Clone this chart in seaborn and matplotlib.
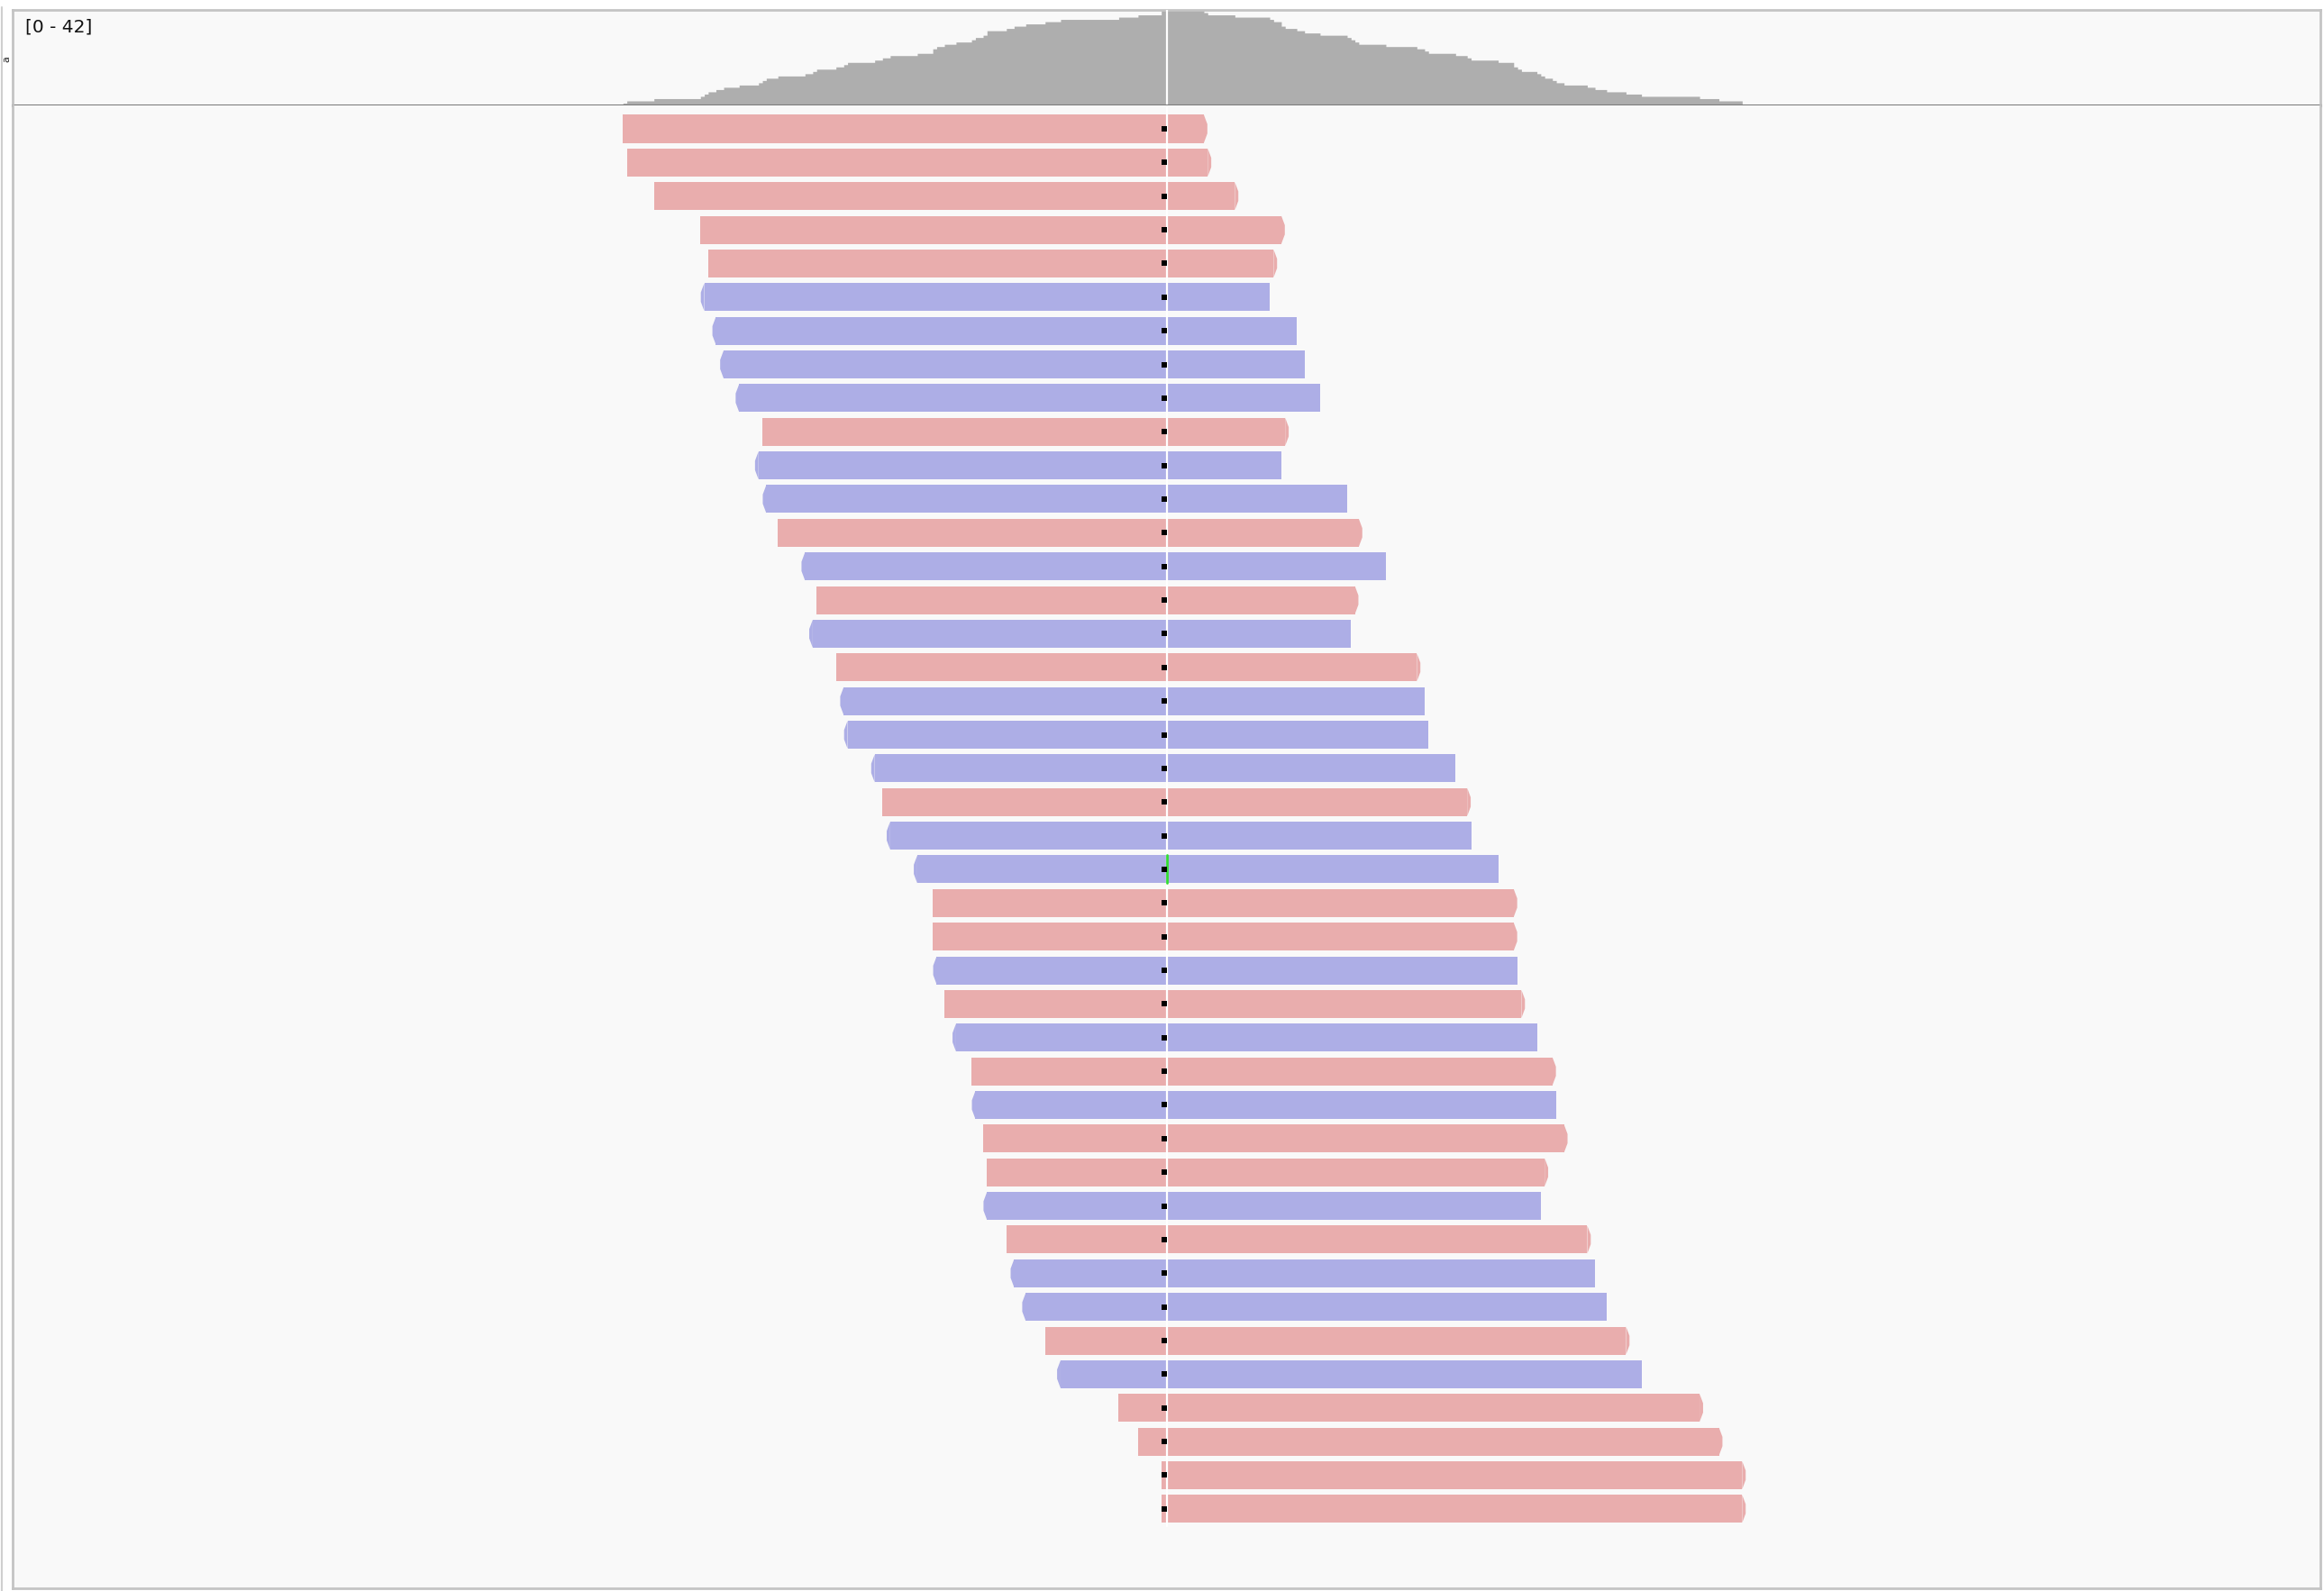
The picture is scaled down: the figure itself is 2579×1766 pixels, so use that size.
import numpy as np
import pandas as pd
import matplotlib
matplotlib.use("Agg")
import matplotlib.pyplot as plt
import seaborn as sns
from matplotlib.patches import Polygon
from matplotlib.lines import Line2D

# ---- data (positions in bp relative to the centre base) ----
read_start = [-140, -139, -132, -120, -118, -119, -116, -114, -110, -104, -105, -103,
              -100, -93, -90, -91, -85, -83, -82, -75, -73, -71, -64, -60, -60, -59,
              -57, -54, -50, -49, -47, -46, -46, -41, -39, -36, -31, -27, -12, -7, -1, -1]
read_end = [10, 11, 18, 30, 28, 27, 34, 36, 40, 31, 30, 47, 50, 57, 49, 48, 65, 67,
            68, 75, 78, 79, 86, 90, 90, 91, 92, 96, 100, 101, 103, 98, 97, 109, 111,
            114, 119, 123, 138, 143, 149, 149]
read_strand = ["+", "+", "+", "+", "+", "-", "-", "-", "-", "+", "-", "-", "+", "-",
               "+", "-", "+", "-", "-", "-", "+", "-", "-", "+", "+", "-", "+", "-",
               "+", "-", "+", "+", "-", "+", "-", "-", "+", "-", "+", "+", "+", "+"]
mismatch_rows = [23]
coverage_range_label = "[0 - 42]"
track_label = "a"

reads = pd.DataFrame({"row": np.arange(1, len(read_start) + 1),
                      "start": read_start, "end": read_end, "strand": read_strand})

FWD = "#E9ADAD"
REV = "#ADAEE6"
BG = "#F9F9F9"
COV = "#AEAEAE"
BORDER = "#C4C4C4"

sns.set_theme(style="white")
plt.rcParams["font.family"] = ["DejaVu Sans"]

W, H = 2579, 1766
fig = plt.figure(figsize=(W / 100, H / 100), dpi=100, facecolor="white")

x0, x1 = 14, 2575
cov_top, cov_bot = 11, 117
rd_bot = 1763
XL = (-297.6, 298.3)

ax_cov = fig.add_axes([x0 / W, 1 - cov_bot / H, (x1 - x0) / W, (cov_bot - cov_top) / H])
ax = fig.add_axes([x0 / W, 1 - rd_bot / H, (x1 - x0) / W, (rd_bot - cov_bot) / H])

for a in (ax_cov, ax):
    a.set_facecolor(BG)
    a.set_xlim(*XL)
    a.set_xticks([])
    a.set_yticks([])
    a.set_xlabel("")
    a.set_ylabel("")

# ---- coverage track computed from reads ----
positions = np.concatenate([np.arange(s, e) + 0.5 for s, e in zip(reads.start, reads.end)])
sns.histplot(x=positions, bins=np.arange(-298, 300, 1), element="step", fill=True,
             color=COV, alpha=1.0, linewidth=0, ax=ax_cov)
ax_cov.set_xlim(*XL)
ax_cov.set_ylim(0, 42.2)
ax_cov.set_xlabel("")
ax_cov.set_ylabel("")
ax_cov.set_yticks([])
ax_cov.set_xticks([])
ax_cov.axvline(0.35, color="white", lw=1.6, zorder=5)
for s in ("top", "left", "right"):
    ax_cov.spines[s].set_color(BORDER)
    ax_cov.spines[s].set_linewidth(2)
ax_cov.spines["bottom"].set_color("#7A7A7A")
ax_cov.spines["bottom"].set_linewidth(2.2)
ax_cov.spines["bottom"].set_zorder(6)
ax_cov.text(14 / (x1 - x0), 1 - 9 / (cov_bot - cov_top), coverage_range_label,
            transform=ax_cov.transAxes, ha="left", va="top", fontsize=14.5, color="#111111")

# ---- reads ----
hgt = 0.83
tip = 0.9
colors = [FWD if s == "+" else REV for s in reads.strand]
ax.barh(reads.row, reads.end - reads.start, left=reads.start, height=hgt,
        color=colors, linewidth=0, zorder=2)
for r in reads.itertuples():
    c = FWD if r.strand == "+" else REV
    if r.strand == "+":
        pts = [(r.end, r.row - hgt / 2), (r.end + tip, r.row - hgt / 6),
               (r.end + tip, r.row + hgt / 6), (r.end, r.row + hgt / 2)]
    else:
        pts = [(r.start, r.row - hgt / 2), (r.start - tip, r.row - hgt / 6),
               (r.start - tip, r.row + hgt / 6), (r.start, r.row + hgt / 2)]
    ax.add_patch(Polygon(pts, closed=True, facecolor=c, edgecolor="none", zorder=2))

ax.set_ylim(44.36, 0.304)
ax.axvline(0.35, color="white", lw=1.6, zorder=3, ymin=(44.36 - 42.5) / (44.36 - 0.304), ymax=1)
for m in mismatch_rows:
    ax.plot([0.35, 0.35], [m - hgt / 2, m + hgt / 2], color="#33DD33", lw=2.0, zorder=4)
ax.scatter(np.full(len(reads), -0.25), reads.row, marker="s", s=14, color="black",
           linewidths=0, zorder=5)

for s in ("left", "right", "bottom"):
    ax.spines[s].set_color(BORDER)
    ax.spines[s].set_linewidth(2)
ax.spines["top"].set_visible(False)

# left gutter line and clipped track label
fig.add_artist(Line2D([2 / W, 2 / W], [0, 1 - 8 / H], color="#CFCFCF", lw=1.5))
fig.text(7 / W, 1 - 66 / H, track_label, rotation=90, fontsize=8, ha="center", va="center",
         color="#222222")

fig.savefig("out.png", dpi=100, facecolor="white")
